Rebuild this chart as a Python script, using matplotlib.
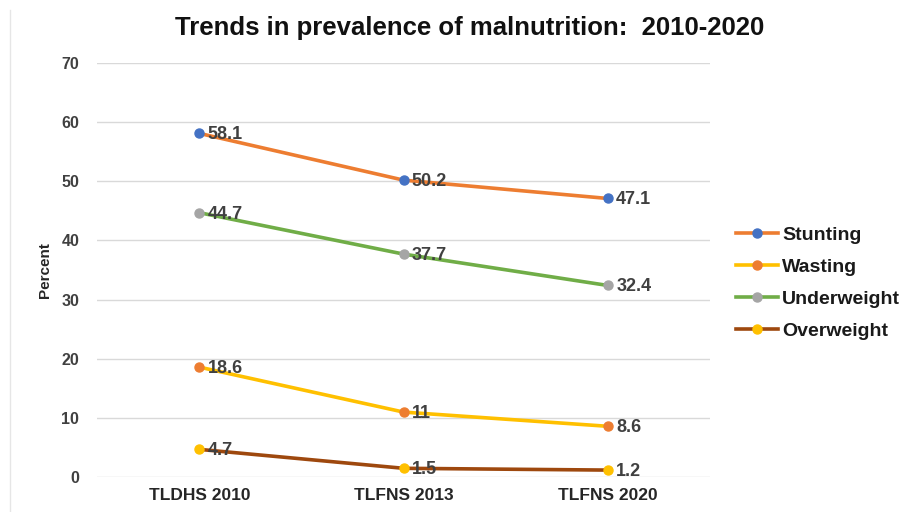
import matplotlib.pyplot as plt
from matplotlib.lines import Line2D

plt.rcParams['font.family'] = ['Liberation Sans', 'DejaVu Sans']

surveys = ['TLDHS 2010', 'TLFNS 2013', 'TLFNS 2020']
stunting = [58.1, 50.2, 47.1]
wasting = [18.6, 11, 8.6]
underweight = [44.7, 37.7, 32.4]
overweight = [4.7, 1.5, 1.2]

names = ['Stunting', 'Wasting', 'Underweight', 'Overweight']
line_colors = ['#ED7D31', '#FFC000', '#70AD47', '#9E480E']
marker_colors = ['#4472C4', '#ED7D31', '#A5A5A5', '#FFC000']


def label(v):
    return ('%g' % v)


def run():
    fig = plt.figure(figsize=(9.09, 5.12), dpi=100)
    ax = fig.add_axes([0.107, 0.068, 0.674, 0.809])
    x = range(len(surveys))
    series = [stunting, wasting, underweight, overweight]
    for vals, name, lc, mc in zip(series, names, line_colors, marker_colors):
        ax.plot(x, vals, color=lc, lw=2.6, zorder=3, solid_capstyle='round')
        ax.plot(x, vals, ls='none', marker='o', ms=6.5, color=mc, zorder=4)
        for xi, v in zip(x, vals):
            ax.annotate(label(v), (xi, v), xytext=(6, -1), textcoords='offset points',
                        va='center', ha='left', fontsize=13, fontweight='bold',
                        color='#404040', zorder=5)

    ax.set_xlim(-0.5, 2.5)
    ax.set_ylim(0, 70)
    ax.set_yticks(range(0, 71, 10))
    ax.set_xticks(list(x))
    ax.set_xticklabels(surveys)
    ax.grid(axis='y', color='#D9D9D9', lw=1)
    ax.set_axisbelow(True)
    for s in ax.spines.values():
        s.set_visible(False)
    ax.tick_params(axis='y', length=0, labelsize=11.5, labelcolor='#404040', pad=13)
    ax.tick_params(axis='x', length=0, labelsize=12.5, labelcolor='#262626', pad=8)
    for t in ax.get_xticklabels() + ax.get_yticklabels():
        t.set_fontweight('bold')
    ax.set_ylabel('Percent', fontsize=11, fontweight='bold', color='#262626', labelpad=7)

    fig.text(0.517, 0.945, 'Trends in prevalence of malnutrition:  2010-2020',
             ha='center', va='center', fontsize=18.5, fontweight='bold', color='#111111')

    handles = [Line2D([], [], color=lc, lw=2.6, marker='o', ms=6.5,
                      markerfacecolor=mc, markeredgecolor=mc)
               for lc, mc in zip(line_colors, marker_colors)]
    leg = fig.legend(handles, names, loc='center left', bbox_to_anchor=(0.79, 0.447),
                     frameon=False, handlelength=2.2, labelspacing=0.75,
                     handletextpad=0.2, prop={'size': 14, 'weight': 'bold'})
    for t in leg.get_texts():
        t.set_color('#1a1a1a')

    fig.add_artist(Line2D([0.011, 0.011], [0.0, 0.98], color='#E6E6E6', lw=1))
    fig.savefig('out.png', dpi=100)


if __name__ == '__main__':
    run()
